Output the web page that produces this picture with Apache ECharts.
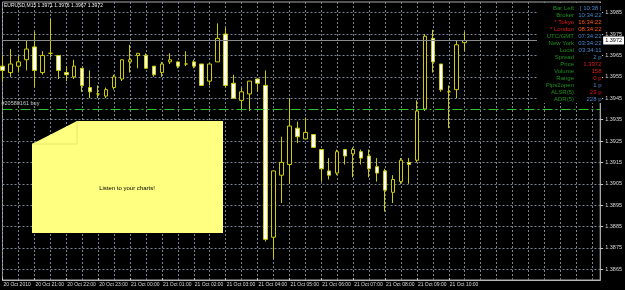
<!DOCTYPE html>
<html><head><meta charset="utf-8">
<script src="https://cdn.jsdelivr.net/npm/echarts@6/dist/echarts.min.js"></script>
<style>html,body{margin:0;padding:0;background:#000;}#c{width:625px;height:290px;}</style>
</head><body><div id="c"></div>
<script>
const symbolName = 'EURUSD';
const timeframe = 'M15';
const barTimes = [
 '20.10 20:00','20.10 20:15','20.10 20:30','20.10 20:45','20.10 21:00','20.10 21:15','20.10 21:30','20.10 21:45',
 '20.10 22:00','20.10 22:15','20.10 22:30','20.10 22:45','20.10 23:00','20.10 23:15','20.10 23:30','20.10 23:45',
 '21.10 00:00','21.10 00:15','21.10 00:30','21.10 00:45','21.10 01:00','21.10 01:15','21.10 01:30','21.10 01:45',
 '21.10 02:00','21.10 02:15','21.10 02:30','21.10 02:45','21.10 03:00','21.10 03:15','21.10 03:30','21.10 03:45',
 '21.10 04:00','21.10 04:15','21.10 04:30','21.10 04:45','21.10 05:00','21.10 05:15','21.10 05:30','21.10 05:45',
 '21.10 06:00','21.10 06:15','21.10 06:30','21.10 06:45','21.10 07:00','21.10 07:15','21.10 07:30','21.10 07:45',
 '21.10 08:00','21.10 08:15','21.10 08:30','21.10 08:45','21.10 09:00','21.10 09:15','21.10 09:30','21.10 09:45',
 '21.10 10:00','21.10 10:15','21.10 10:30'
];
const openValues = [
 1.3960,1.3957,1.3960,1.3963,1.3969,1.3957,1.3966,1.3965,1.3957,1.3955,
 1.3959,1.3950,1.3947,1.3946,1.3950,1.3954,1.3962,1.3965,1.3965,1.3960,
 1.3957,1.3962,1.3962,1.3961,1.3962,1.3961,1.3953,1.3962,1.3975,1.3952,
 1.3944,1.3947,1.3954,1.3951,1.3880,1.3909,1.3914,1.3931,1.3926,1.3928,
 1.3921,1.3911,1.3910,1.3921,1.3919,1.3920,1.3918,1.3913,1.3911,1.3901,
 1.3906,1.3915,1.3916,1.3940,1.3973,1.3961,1.3948,1.3949,1.3971
];
const closeValues = [
 1.3958,1.3961,1.3962,1.3968,1.3958,1.3965,1.3966,1.3958,1.3956,1.3960,
 1.3951,1.3948,1.3947,1.3949,1.3955,1.3963,1.3963,1.3966,1.3959,1.3956,
 1.3961,1.3963,1.3960,1.3961,1.3960,1.3951,1.3961,1.3973,1.3951,1.3945,
 1.3948,1.3953,1.3952,1.3879,1.3911,1.3915,1.3932,1.3927,1.3929,1.3922,
 1.3912,1.3909,1.3920,1.3918,1.3921,1.3917,1.3912,1.3910,1.3902,1.3907,
 1.3916,1.3914,1.3939,1.3974,1.3962,1.3949,1.3948,1.3970,1.3972
];
const lowValues = [
 1.3953,1.3955,1.3957,1.3958,1.3950,1.3956,1.3964,1.3954,1.3953,1.3954,
 1.3948,1.3945,1.3945,1.3945,1.3949,1.3953,1.3957,1.3959,1.3959,1.3955,
 1.3955,1.3961,1.3959,1.3960,1.3959,1.3951,1.3951,1.3962,1.3950,1.3945,
 1.3940,1.3939,1.3948,1.3878,1.3870,1.3896,1.3905,1.3924,1.3926,1.3922,
 1.3906,1.3907,1.3909,1.3914,1.3908,1.3914,1.3908,1.3906,1.3892,1.3896,
 1.3905,1.3905,1.3915,1.3939,1.3957,1.3948,1.3931,1.3945,1.3967
];
const highValues = [
 1.3965,1.3968,1.3965,1.3972,1.3976,1.3967,1.3982,1.3965,1.3960,1.3963,
 1.3959,1.3958,1.3951,1.3950,1.3956,1.3963,1.3970,1.3966,1.3966,1.3960,
 1.3962,1.3966,1.3962,1.3967,1.3963,1.3961,1.3961,1.3980,1.3978,1.3956,
 1.3950,1.3953,1.3954,1.3958,1.3911,1.3927,1.3945,1.3934,1.3936,1.3928,
 1.3921,1.3917,1.3921,1.3921,1.3922,1.3921,1.3921,1.3917,1.3912,1.3909,
 1.3917,1.3917,1.3944,1.3975,1.3977,1.3961,1.3951,1.3972,1.3976
];
const futureSlots = 17;
const hourLabels = ['20 Oct 2010','20 Oct 21:00','20 Oct 22:00','20 Oct 23:00','21 Oct 00:00','21 Oct 01:00',
 '21 Oct 02:00','21 Oct 03:00','21 Oct 04:00','21 Oct 05:00','21 Oct 06:00','21 Oct 07:00','21 Oct 08:00',
 '21 Oct 09:00','21 Oct 10:00'];
const priceTicks = [1.3865,1.3875,1.3885,1.3895,1.3905,1.3915,1.3925,1.3935,1.3945,1.3955,1.3965,1.3975,1.3985];
const currentPrice = 1.3972;
const orderPrice = 1.3940;
const orderLabel = '#20580161 buy';
const noteText = 'Listen to your charts!';
const infoLabels = ['Bar Left','Broker','* Tokyo','* London','UTC/GMT','New York','Local','Spread','Price','Volume','Range','Pips2open','ALSR(5)','ADR(5)'];
const infoValues = ['[ 10:38 ]','10:34:22','16:34:22','08:34:22','07:34:22','03:34:22','03:34:11','2 p','1.3972','158','0 p','1 p','23 p','228 p'];

// styles
const GREEN = '#1f8f1f', BLUE = '#4a86c8', RED = '#e41a1a', ORANGE = '#ff5a1a';
const labelColors = [GREEN,GREEN,RED,RED,GREEN,GREEN,GREEN,GREEN,GREEN,GREEN,GREEN,GREEN,GREEN,GREEN];
const valueColors = [BLUE,BLUE,ORANGE,ORANGE,BLUE,BLUE,BLUE,BLUE,RED,RED,RED,BLUE,RED,BLUE];
const FONT = 'Liberation Sans, Arial, sans-serif';
const YEL = '#cccc00';
const GRIDC = '#7b8594';

const categories = barTimes.concat(new Array(futureSlots).fill(''));
const candleData = openValues.map((o, i) => [o, closeValues[i], lowValues[i], highValues[i]]);
const last = candleData.length - 1;
const titleText = symbolName + ',' + timeframe + ' ' + openValues[last].toFixed(4) + ' ' +
  highValues[last].toFixed(4) + ' ' + lowValues[last].toFixed(4) + ' ' + closeValues[last].toFixed(4);

const labelIdx = i => i % 4 === 0 && i / 4 < hourLabels.length;

const graphics = [];
// sticky note
graphics.push({type:'polygon', z:10, shape:{points:[[32,144],[77,121],[223,121],[223,233],[32,233]]},
  style:{fill:'#ffff80'}});
graphics.push({type:'polyline', z:11, shape:{points:[[32,144],[77,144],[77,121]]},
  style:{stroke:'#e6e66a', lineWidth:1, fill:null}});
graphics.push({type:'text', z:12, x:127, y:188, style:{text:noteText, fill:'#000', font:'6px ' + FONT,
  textAlign:'center', textVerticalAlign:'middle'}});
// title
graphics.push({type:'text', z:12, x:4, y:6, style:{text:titleText, fill:'#e8e8e8', font:'5px ' + FONT,
  textAlign:'left', textVerticalAlign:'middle'}});
// info panel
graphics.push({type:'rect', z:20, shape:{x:537, y:3, width:65, height:100}, style:{fill:'#000'}});
infoLabels.forEach((t, k) => {
  const y = 8.8 + 7 * k;
  graphics.push({type:'text', z:21, x:574, y:y, style:{text:t, fill:labelColors[k], font:'6px ' + FONT,
    textAlign:'right', textVerticalAlign:'middle'}});
  graphics.push({type:'text', z:21, x:601.5, y:y, style:{text:infoValues[k], fill:valueColors[k], font:'6px ' + FONT,
    textAlign:'right', textVerticalAlign:'middle'}});
});

const chart = echarts.init(document.getElementById('c'), null, {renderer:'canvas'});
chart.setOption({
  animation:false,
  backgroundColor:'#000',
  grid:{left:2.5, right:22.5, top:2, bottom:10, show:true, borderColor:'#a8a8a8', borderWidth:1, backgroundColor:'transparent'},
  xAxis:{
    type:'category', data:categories, boundaryGap:false,
    axisLine:{show:true, lineStyle:{color:'#b8b8b8'}},
    axisTick:{show:true, interval:(i) => labelIdx(i), length:2, inside:true, lineStyle:{color:'#d0d0d0'}},
    axisLabel:{show:true, interval:(i) => labelIdx(i), formatter:(v, i) => hourLabels[i / 4],
      color:'#d8d8d8', fontSize:5, fontFamily:FONT, align:'left', margin:2, padding:[0,0,0,1]},
    splitLine:{show:true, interval:1, lineStyle:{color:GRIDC, type:[2,2], width:1}}
  },
  yAxis:{
    type:'value', position:'right', min:1.3860, max:1.3990, scale:true,
    axisLine:{show:true, lineStyle:{color:'#a8a8a8'}},
    axisTick:{show:true, customValues:priceTicks, length:3, lineStyle:{color:'#c8c8c8'}},
    axisLabel:{show:true, customValues:priceTicks, formatter:v => v.toFixed(4), color:'#d8d8d8',
      fontSize:5.5, fontFamily:FONT, margin:5},
    splitLine:{show:true, lineStyle:{color:GRIDC, type:[2,2], width:1}}
  },
  series:[{
    type:'candlestick', data:candleData, barWidth:4, z:3,
    itemStyle:{color:'#000000', color0:'#ffffff', borderColor:YEL, borderColor0:YEL, borderColorDoji:YEL, borderWidth:1},
    markLine:{
      silent:true, symbol:['none','none'], animation:false, precision:4, z:5,
      lineStyle:{color:'#2cc42c', type:[10,3,2,3], width:1.2, opacity:1},
      emphasis:{disabled:true},
      data:[
        {yAxis:currentPrice, lineStyle:{color:'#8a8a8a', type:'solid', width:1},
         label:{show:true, position:'end', formatter:currentPrice.toFixed(4), backgroundColor:'#ffffff',
           color:'#000', fontSize:5.5, fontFamily:FONT, padding:[1,2,1,2], distance:3}},
        {yAxis:orderPrice,
         label:{show:true, position:'insideStartTop', formatter:orderLabel, color:'#c8c8c8',
           fontSize:5.5, fontFamily:FONT, distance:[-1,2]}}
      ]
    }
  }],
  graphic:graphics
});
</script></body></html>
